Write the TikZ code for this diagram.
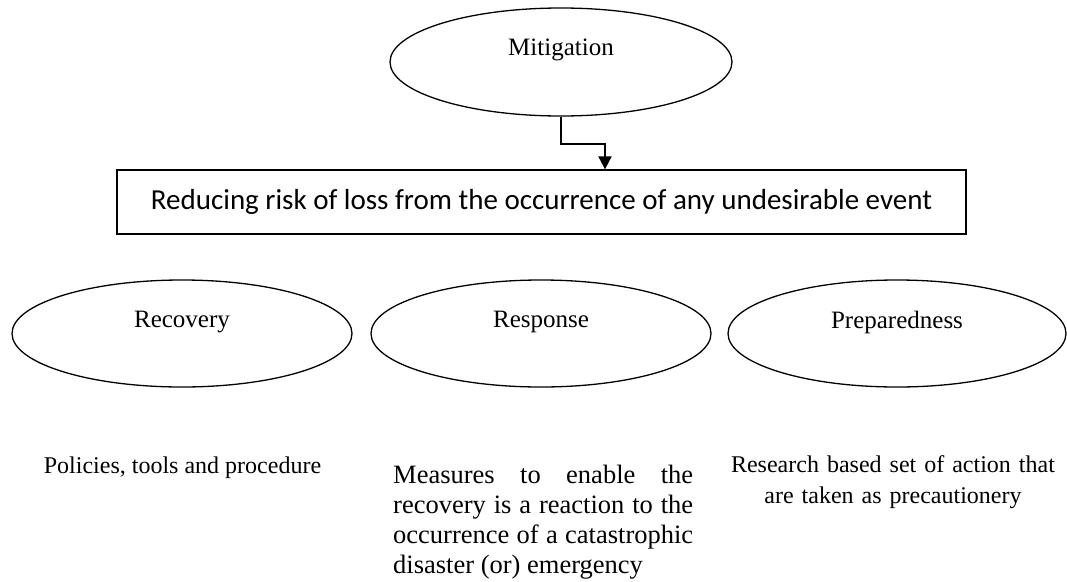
\documentclass[tikz,border=0pt]{standalone}
\usepackage{fontspec}
\setmainfont{Liberation Serif}
\newfontfamily\boxfont{Carlito}
\usetikzlibrary{shapes.geometric,arrows.meta}
\begin{document}
\begin{tikzpicture}[x=1pt,y=-1pt,
  phase/.style={draw,ellipse,line width=1.3pt,inner sep=0pt,
    minimum width=340pt,minimum height=107pt},
  phaselabel/.style={font=\fontsize{25}{30}\selectfont},
  notetext/.style={inner sep=0pt,font=\fontsize{24}{30}\selectfont},
  flow/.style={line width=2pt,-{Triangle[width=13pt,length=13pt]}}]
\useasboundingbox (0,0) rectangle (1067,581);

% top phase and its definition
\node[phase,minimum width=342pt,minimum height=108pt] (mit) at (561,62) {};
\node[phaselabel] (mitlabel) at (561,50) {Mitigation};
\node[draw,line width=1.3pt,minimum width=849pt,minimum height=64pt,inner sep=0pt,
  font=\boxfont\fontsize{29}{34}\selectfont] (def) at (541.5,202)
  {Reducing risk of loss from the occurrence of any undesirable event};
\coordinate (elbow) at (605,144);
\draw[flow] (mit.south) |- (elbow) -- (elbow |- def.north);

% the three other phases
\node[phase] (rec) at (182,333.5) {};
\node[phaselabel] (reclabel) at (182,322) {Recovery};
\node[phase] (res) at (541,333.5) {};
\node[phaselabel] (reslabel) at (541,322) {Response};
\node[phase,minimum width=338pt] (pre) at (897,333.5) {};
\node[phaselabel] (prelabel) at (897,322) {Preparedness};

% notes under the phases
\node[notetext,anchor=base] (recnote) at (182.5,473) {Policies, tools and procedure};
\node[notetext,anchor=base west,text width=300pt,align=justify,
  font=\fontsize{26.5}{30}\selectfont] (resnote) at (393,483)
  {\hyphenpenalty=10000\tolerance=10000
   Measures to enable the\linebreak
   recovery is a reaction to the\linebreak
   occurrence of a catastrophic\linebreak
   disaster (or) emergency};
\node[notetext,anchor=base,text width=340pt,align=center,
  font=\fontsize{24}{31}\selectfont] (prenote) at (893,472)
  {Research based set of action that\\ are taken as precautionery};
\end{tikzpicture}
\end{document}
